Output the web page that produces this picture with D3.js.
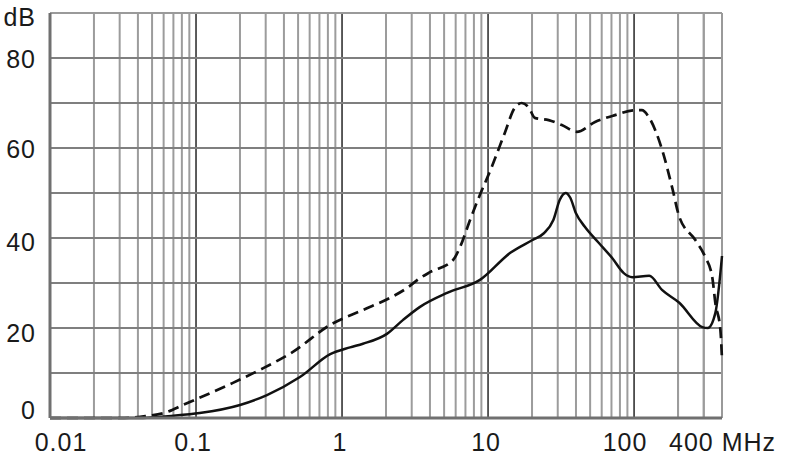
<!DOCTYPE html>
<html>
<head>
<meta charset="utf-8">
<script src="https://cdn.jsdelivr.net/npm/d3@7"></script>
<style>
  body { margin: 0; background: #fff; }
  text { font-family: "Liberation Sans", Arial, sans-serif; fill: #1a1a1a; letter-spacing: 1px; }
</style>
</head>
<body>
<div id="chart"></div>
<script>
// frequency (MHz) / level (dB)
const solidFreq = [0.01, 0.04, 0.07, 0.106, 0.2, 0.306, 0.515, 0.83, 1.135, 1.39, 2.03, 2.62, 3.42, 5.24, 8.8, 14.2, 20, 24, 28, 31, 34, 36.5, 40, 46, 57, 71, 85, 97, 127, 156, 204, 293, 320, 360, 400];
const solidDb   = [0, 0, 0.5, 1.1, 2.9, 5.1, 9.1, 14.2, 15.7, 16.5, 18.7, 21.8, 24.7, 27.8, 30.7, 36.7, 39.5, 41, 44, 48.5, 50, 49, 45.5, 42.5, 39, 35.5, 32.2, 31.3, 31.6, 28.4, 25.6, 20.2, 20, 23.3, 36];

const dashFreq = [0.01, 0.03, 0.045, 0.063, 0.0815, 0.179, 0.274, 0.461, 0.83, 1.39, 2.13, 2.79, 3.42, 4.0, 5.76, 6.43, 7.53, 8.4, 10.6, 13, 15.2, 17, 19, 20.9, 26, 32, 40.6, 54, 74, 101.6, 113, 127, 155.6, 182, 204, 262, 307, 343, 360, 390, 400];
const dashDb   = [0, 0, 0.4, 1.3, 2.9, 7.8, 10.7, 14.7, 20.7, 24, 26.7, 28.9, 31.1, 32.4, 35.1, 38, 44, 48, 55.8, 63.3, 68.9, 70, 69, 66.7, 66.2, 65.1, 63.6, 65.8, 67.3, 68.4, 68.4, 66.7, 59.6, 51.3, 44.7, 39.6, 35.8, 31.3, 25.6, 19.6, 13];

const yTicks = [0, 20, 40, 60, 80];
const yGrid = [10, 20, 30, 40, 50, 60, 70, 80];
const xTicks = [0.01, 0.1, 1, 10, 100, 400];
const xTickText = ["0.01", "0.1", "1", "10", "100", "400 MHz"];
const decades = [0.01, 0.1, 1, 10, 100];

const margin = { top: 13, left: 50 };
const width = 722 - 50;
const height = 418 - 13;

const svg = d3.select("#chart")
  .append("svg")
  .attr("width", 790)
  .attr("height", 463);

const g = svg.append("g")
  .attr("transform", `translate(${margin.left},${margin.top})`);

const x = d3.scaleLog().domain([0.01, 400]).range([0, width]);
const y = d3.scaleLinear().domain([0, 90]).range([height, 0]);

// vertical grid: 1..9 per decade, plus 200 and 300
const vLines = [];
decades.forEach(d => {
  for (let m = 1; m <= 9; m++) {
    if (d * m < 400) vLines.push({ f: d * m, major: m === 1 });
  }
});
vLines.push({ f: 200, major: false }, { f: 300, major: false });

g.selectAll(".vgrid")
  .data(vLines)
  .enter()
  .append("line")
  .attr("x1", d => x(d.f))
  .attr("x2", d => x(d.f))
  .attr("y1", 0)
  .attr("y2", height)
  .attr("stroke", d => d.major ? "#4a4a4a" : "#9c9c9c")
  .attr("stroke-width", d => d.major ? 1.8 : 2);

g.selectAll(".hgrid")
  .data(yGrid)
  .enter()
  .append("line")
  .attr("x1", 0)
  .attr("x2", width)
  .attr("y1", d => y(d))
  .attr("y2", d => y(d))
  .attr("stroke", "#7f7f7f")
  .attr("stroke-width", 2);

// frame
g.append("line").attr("x1", 0).attr("x2", width).attr("y1", 0).attr("y2", 0)
  .attr("stroke", "#9a9a9a").attr("stroke-width", 2);
g.append("line").attr("x1", width).attr("x2", width).attr("y1", 0).attr("y2", height)
  .attr("stroke", "#9a9a9a").attr("stroke-width", 2);

// curves
const line = d3.line()
  .x(d => x(d[0]))
  .y(d => y(d[1]))
  .curve(d3.curveMonotoneX);

g.append("path")
  .datum(solidFreq.map((f, i) => [f, solidDb[i]]))
  .attr("fill", "none")
  .attr("stroke", "#111")
  .attr("stroke-width", 2.5)
  .attr("d", line);

g.append("path")
  .datum(dashFreq.map((f, i) => [f, dashDb[i]]))
  .attr("fill", "none")
  .attr("stroke", "#111")
  .attr("stroke-width", 2.7)
  .attr("stroke-dasharray", "11,6")
  .attr("d", line);

// axis lines
g.append("line").attr("x1", 0).attr("x2", 0).attr("y1", 0).attr("y2", height)
  .attr("stroke", "#707070").attr("stroke-width", 3);
g.append("line").attr("x1", 0).attr("x2", width).attr("y1", height).attr("y2", height)
  .attr("stroke", "#707070").attr("stroke-width", 3);

// y labels (small nudges as in the original)
const yNudge = [-8, 5, 4, 1, 1];
g.selectAll(".ylab")
  .data(yTicks)
  .enter()
  .append("text")
  .attr("x", -14)
  .attr("y", (d, i) => y(d) + 9 + yNudge[i])
  .attr("text-anchor", "end")
  .style("font-size", "25px")
  .text(d => d);

g.append("text")
  .attr("x", -14)
  .attr("y", y(90) + 13)
  .attr("text-anchor", "end")
  .style("font-size", "25px")
  .text("dB");

// x labels
const xNudge = [11, -3, -2, -2, -9, -53];
g.selectAll(".xlab")
  .data(xTicks)
  .enter()
  .append("text")
  .attr("x", (d, i) => x(d) + xNudge[i])
  .attr("y", height + 33)
  .attr("text-anchor", (d, i) => i === xTicks.length - 1 ? "start" : "middle")
  .style("font-size", "25px")
  .text((d, i) => xTickText[i]);
</script>
</body>
</html>
